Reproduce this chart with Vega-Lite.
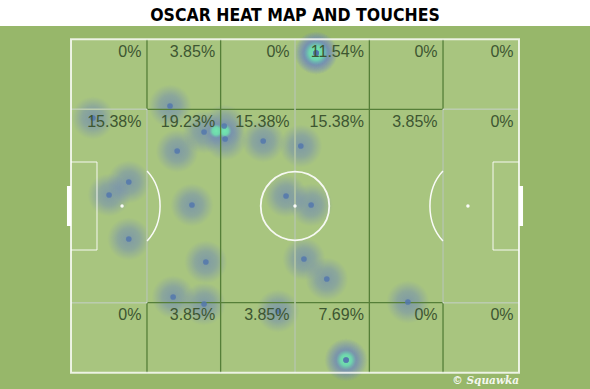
{
  "$schema": "https://vega.github.io/schema/vega-lite/v6.json",
  "width": 590,
  "height": 389,
  "autosize": {"type": "fit", "contains": "padding"},
  "padding": 0,
  "background": "white",
  "config": {"view": {"stroke": null}},
  "datasets": {
    "touches": [
      {"x": 22.1, "y": 20.0}, {"x": 4.9, "y": 23.6}, {"x": 29.7, "y": 27.8},
      {"x": 34.2, "y": 26.0}, {"x": 34.4, "y": 29.9}, {"x": 23.7, "y": 33.5},
      {"x": 42.9, "y": 30.5}, {"x": 51.3, "y": 32.0}, {"x": 12.9, "y": 42.8},
      {"x": 8.5, "y": 46.7}, {"x": 27.0, "y": 49.7}, {"x": 48.0, "y": 47.0},
      {"x": 53.6, "y": 49.7}, {"x": 12.9, "y": 59.9}, {"x": 30.1, "y": 66.8},
      {"x": 52.0, "y": 65.9}, {"x": 57.1, "y": 71.9}, {"x": 22.8, "y": 77.3},
      {"x": 29.7, "y": 79.4}, {"x": 46.2, "y": 81.5}, {"x": 75.2, "y": 78.8},
      {"x": 54.7, "y": 4.1}, {"x": 54.7, "y": 4.1}, {"x": 54.7, "y": 4.1},
      {"x": 61.4, "y": 96.2}, {"x": 61.4, "y": 96.2}
    ],
    "heat": [
      {"x": 54.7, "y": 4.1, "heat": 3}, {"x": 61.4, "y": 96.2, "heat": 2},
      {"x": 32.4, "y": 27.5, "heat": 1}, {"x": 34.3, "y": 27.5, "heat": 1}
    ],
    "zones": [
      {"x": 16.96, "y": 0, "x2": 16.96, "y2": 100},
      {"x": 33.4, "y": 0, "x2": 33.4, "y2": 100},
      {"x": 50, "y": 0, "x2": 50, "y2": 100},
      {"x": 66.6, "y": 0, "x2": 66.6, "y2": 100},
      {"x": 83.04, "y": 0, "x2": 83.04, "y2": 100},
      {"x": 0, "y": 21, "x2": 100, "y2": 21},
      {"x": 0, "y": 79, "x2": 100, "y2": 79}
    ],
    "markings": [
      {"x": 50, "y": 0, "x2": 50, "y2": 100},
      {"x": 0, "y": 21, "x2": 16.96, "y2": 21},
      {"x": 16.96, "y": 21, "x2": 16.96, "y2": 79},
      {"x": 0, "y": 79, "x2": 16.96, "y2": 79},
      {"x": 83.04, "y": 21, "x2": 100, "y2": 21},
      {"x": 83.04, "y": 21, "x2": 83.04, "y2": 79},
      {"x": 83.04, "y": 79, "x2": 100, "y2": 79},
      {"x": 0, "y": 36.8, "x2": 5.8, "y2": 36.8},
      {"x": 5.8, "y": 36.8, "x2": 5.8, "y2": 63.2},
      {"x": 0, "y": 63.2, "x2": 5.8, "y2": 63.2},
      {"x": 94.2, "y": 36.8, "x2": 100, "y2": 36.8},
      {"x": 94.2, "y": 36.8, "x2": 94.2, "y2": 63.2},
      {"x": 94.2, "y": 63.2, "x2": 100, "y2": 63.2}
    ],
    "labels": [
      {"x": 16.96, "y": 0, "label": "0%"},
      {"x": 33.4, "y": 0, "label": "3.85%"},
      {"x": 50, "y": 0, "label": "0%"},
      {"x": 66.6, "y": 0, "label": "11.54%"},
      {"x": 83.04, "y": 0, "label": "0%"},
      {"x": 100, "y": 0, "label": "0%"},
      {"x": 16.96, "y": 21, "label": "15.38%"},
      {"x": 33.4, "y": 21, "label": "19.23%"},
      {"x": 50, "y": 21, "label": "15.38%"},
      {"x": 66.6, "y": 21, "label": "15.38%"},
      {"x": 83.04, "y": 21, "label": "3.85%"},
      {"x": 100, "y": 21, "label": "0%"},
      {"x": 16.96, "y": 79, "label": "0%"},
      {"x": 33.4, "y": 79, "label": "3.85%"},
      {"x": 50, "y": 79, "label": "3.85%"},
      {"x": 66.6, "y": 79, "label": "7.69%"},
      {"x": 83.04, "y": 79, "label": "0%"},
      {"x": 100, "y": 79, "label": "0%"}
    ]
  },
  "layer": [
    {
      "data": {"values": [{}]},
      "mark": {"type": "rect", "color": "#97b76a"},
      "encoding": {
        "x": {"datum": -15.848, "scale": {"domain": [-15.848, 115.848], "nice": false, "zero": false}, "axis": null},
        "x2": {"datum": 115.848},
        "y": {"datum": -3.99, "scale": {"domain": [-11.788, 104.89], "nice": false, "zero": false, "reverse": true}, "axis": null},
        "y2": {"datum": 104.89}
      }
    },
    {
      "data": {"values": [{}]},
      "mark": {"type": "rect", "color": "#a8c57f"},
      "encoding": {
        "x": {"datum": 0, "scale": {"domain": [-15.848, 115.848], "nice": false, "zero": false}, "axis": null},
        "x2": {"datum": 100},
        "y": {"datum": 0, "scale": {"domain": [-11.788, 104.89], "nice": false, "zero": false, "reverse": true}, "axis": null},
        "y2": {"datum": 100}
      }
    },
    {
      "data": {"name": "touches"},
      "mark": {
        "type": "point", "shape": "circle", "filled": true, "size": 1850, "strokeWidth": 0, "opacity": 1,
        "fill": {"gradient": "radial", "x1": 0.5, "y1": 0.5, "r1": 0, "x2": 0.5, "y2": 0.5, "r2": 0.5,
          "stops": [
            {"offset": 0, "color": "rgba(96,124,192,0.58)"},
            {"offset": 0.5, "color": "rgba(100,126,192,0.42)"},
            {"offset": 1, "color": "rgba(110,130,192,0)"}
          ]}
      },
      "encoding": {
        "x": {"field": "x", "type": "quantitative", "scale": {"domain": [-15.848, 115.848], "nice": false, "zero": false}, "axis": null},
        "y": {"field": "y", "type": "quantitative", "scale": {"domain": [-11.788, 104.89], "nice": false, "zero": false, "reverse": true}, "axis": null}
      }
    },
    {
      "data": {"name": "heat"},
      "mark": {
        "type": "point", "shape": "circle", "filled": true, "strokeWidth": 0, "opacity": 1,
        "fill": {"gradient": "radial", "x1": 0.5, "y1": 0.5, "r1": 0, "x2": 0.5, "y2": 0.5, "r2": 0.5,
          "stops": [
            {"offset": 0, "color": "rgba(115,235,175,0.95)"},
            {"offset": 0.55, "color": "rgba(110,228,172,0.85)"},
            {"offset": 1, "color": "rgba(110,210,172,0)"}
          ]}
      },
      "encoding": {
        "x": {"field": "x", "type": "quantitative", "scale": {"domain": [-15.848, 115.848], "nice": false, "zero": false}, "axis": null},
        "y": {"field": "y", "type": "quantitative", "scale": {"domain": [-11.788, 104.89], "nice": false, "zero": false, "reverse": true}, "axis": null},
        "size": {"field": "heat", "type": "quantitative", "scale": {"domain": [1, 3], "range": [196, 620]}, "legend": null}
      }
    },
    {
      "data": {"name": "zones"},
      "mark": {"type": "rule", "color": "#557f38", "strokeWidth": 1.3},
      "encoding": {
        "x": {"field": "x", "type": "quantitative", "scale": {"domain": [-15.848, 115.848], "nice": false, "zero": false}, "axis": null},
        "x2": {"field": "x2"},
        "y": {"field": "y", "type": "quantitative", "scale": {"domain": [-11.788, 104.89], "nice": false, "zero": false, "reverse": true}, "axis": null},
        "y2": {"field": "y2"}
      }
    },
    {
      "data": {"name": "markings"},
      "mark": {"type": "rule", "color": "white", "strokeWidth": 1.5, "opacity": 0.6},
      "encoding": {
        "x": {"field": "x", "type": "quantitative", "scale": {"domain": [-15.848, 115.848], "nice": false, "zero": false}, "axis": null},
        "x2": {"field": "x2"},
        "y": {"field": "y", "type": "quantitative", "scale": {"domain": [-11.788, 104.89], "nice": false, "zero": false, "reverse": true}, "axis": null},
        "y2": {"field": "y2"}
      }
    },
    {
      "data": {"values": [{}]},
      "mark": {"type": "rect", "fill": "transparent", "stroke": "white", "strokeWidth": 2, "strokeOpacity": 0.8},
      "encoding": {
        "x": {"datum": 0, "scale": {"domain": [-15.848, 115.848], "nice": false, "zero": false}, "axis": null},
        "x2": {"datum": 100},
        "y": {"datum": 0, "scale": {"domain": [-11.788, 104.89], "nice": false, "zero": false, "reverse": true}, "axis": null},
        "y2": {"datum": 100}
      }
    },
    {
      "data": {"values": [{}]},
      "mark": {"type": "point", "shape": "circle", "filled": false, "size": 4700, "color": "white", "strokeWidth": 1.8, "opacity": 0.9},
      "encoding": {
        "x": {"datum": 50, "scale": {"domain": [-15.848, 115.848], "nice": false, "zero": false}, "axis": null},
        "y": {"datum": 50, "scale": {"domain": [-11.788, 104.89], "nice": false, "zero": false, "reverse": true}, "axis": null}
      }
    },
    {
      "data": {"values": [{}]},
      "mark": {"type": "point", "shape": "M 0.625 -0.875 A 0.95 1.162 0 0 1 0.625 0.875", "filled": false, "size": 6400, "color": "white", "strokeWidth": 1.5, "opacity": 0.95},
      "encoding": {
        "x": {"datum": 11.4, "scale": {"domain": [-15.848, 115.848], "nice": false, "zero": false}, "axis": null},
        "y": {"datum": 50, "scale": {"domain": [-11.788, 104.89], "nice": false, "zero": false, "reverse": true}, "axis": null}
      }
    },
    {
      "data": {"values": [{}]},
      "mark": {"type": "point", "shape": "M -0.625 -0.875 A 0.95 1.162 0 0 0 -0.625 0.875", "filled": false, "size": 6400, "color": "white", "strokeWidth": 1.5, "opacity": 0.95},
      "encoding": {
        "x": {"datum": 88.6, "scale": {"domain": [-15.848, 115.848], "nice": false, "zero": false}, "axis": null},
        "y": {"datum": 50, "scale": {"domain": [-11.788, 104.89], "nice": false, "zero": false, "reverse": true}, "axis": null}
      }
    },
    {
      "data": {"values": [{"x": 11.4, "y": 50}, {"x": 88.6, "y": 50}, {"x": 50, "y": 50}]},
      "mark": {"type": "point", "shape": "circle", "filled": true, "size": 12, "color": "white", "opacity": 0.95},
      "encoding": {
        "x": {"field": "x", "type": "quantitative", "scale": {"domain": [-15.848, 115.848], "nice": false, "zero": false}, "axis": null},
        "y": {"field": "y", "type": "quantitative", "scale": {"domain": [-11.788, 104.89], "nice": false, "zero": false, "reverse": true}, "axis": null}
      }
    },
    {
      "data": {"values": [{"x": -0.9, "x2": 0}, {"x": 100, "x2": 100.9}]},
      "mark": {"type": "rect", "color": "white"},
      "encoding": {
        "x": {"field": "x", "type": "quantitative", "scale": {"domain": [-15.848, 115.848], "nice": false, "zero": false}, "axis": null},
        "x2": {"field": "x2"},
        "y": {"datum": 44, "scale": {"domain": [-11.788, 104.89], "nice": false, "zero": false, "reverse": true}, "axis": null},
        "y2": {"datum": 56}
      }
    },
    {
      "data": {"name": "touches"},
      "mark": {"type": "point", "shape": "circle", "filled": true, "size": 32, "color": "#5378ad", "opacity": 0.85, "strokeWidth": 0},
      "encoding": {
        "x": {"field": "x", "type": "quantitative", "scale": {"domain": [-15.848, 115.848], "nice": false, "zero": false}, "axis": null},
        "y": {"field": "y", "type": "quantitative", "scale": {"domain": [-11.788, 104.89], "nice": false, "zero": false, "reverse": true}, "axis": null}
      }
    },
    {
      "data": {"name": "labels"},
      "mark": {"type": "text", "align": "right", "baseline": "alphabetic", "dx": -5.5, "dy": 17.4, "font": "Liberation Sans", "fontSize": 16, "color": "#3d5631"},
      "encoding": {
        "x": {"field": "x", "type": "quantitative", "scale": {"domain": [-15.848, 115.848], "nice": false, "zero": false}, "axis": null},
        "y": {"field": "y", "type": "quantitative", "scale": {"domain": [-11.788, 104.89], "nice": false, "zero": false, "reverse": true}, "axis": null},
        "text": {"field": "label"}
      }
    },
    {
      "data": {"values": [{"t": "OSCAR HEAT MAP AND TOUCHES"}]},
      "mark": {"type": "text", "align": "center", "baseline": "alphabetic", "font": "DejaVu Sans Condensed", "fontWeight": "bold", "fontSize": 17.5, "color": "black"},
      "encoding": {
        "x": {"datum": 50, "scale": {"domain": [-15.848, 115.848], "nice": false, "zero": false}, "axis": null},
        "y": {"datum": -5.37, "scale": {"domain": [-11.788, 104.89], "nice": false, "zero": false, "reverse": true}, "axis": null},
        "text": {"field": "t"}
      }
    },
    {
      "data": {"values": [{"t": "© Squawka"}]},
      "mark": {"type": "text", "align": "right", "baseline": "alphabetic", "font": "DejaVu Serif", "fontStyle": "italic", "fontWeight": "bold", "fontSize": 10.5, "color": "white", "opacity": 0.9},
      "encoding": {
        "x": {"datum": 100, "scale": {"domain": [-15.848, 115.848], "nice": false, "zero": false}, "axis": null},
        "y": {"datum": 103.4, "scale": {"domain": [-11.788, 104.89], "nice": false, "zero": false, "reverse": true}, "axis": null},
        "text": {"field": "t"}
      }
    }
  ]
}
